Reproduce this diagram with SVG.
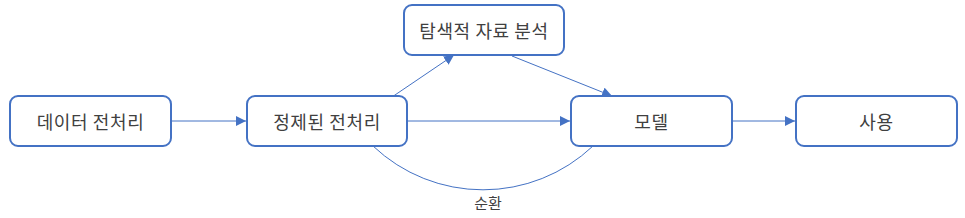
<svg xmlns="http://www.w3.org/2000/svg" width="965" height="218" viewBox="0 0 965 218">
<style>
.box{fill:#fff;stroke:#4472C4;stroke-width:2}
.t{font-family:"Noto Sans CJK KR","Noto Sans",sans-serif;font-size:18px;letter-spacing:0.6px;fill:#404040;text-anchor:middle;dominant-baseline:central}
.lbl{font-size:15px;letter-spacing:0}
.c{fill:none;stroke:#4472C4;stroke-width:1}
</style>
<defs>
<marker id="ah" viewBox="0 0 10 10" refX="10" refY="5" markerWidth="10" markerHeight="10" markerUnits="userSpaceOnUse" orient="auto">
<path d="M0,0 L10,5 L0,10 z" fill="#4472C4"/>
</marker>
</defs>
<rect width="965" height="218" fill="#fff"/>
<g id="connectors">
<line class="c" x1="171" y1="121" x2="246" y2="121" marker-end="url(#ah)"/>
<line class="c" x1="407" y1="121" x2="570" y2="121" marker-end="url(#ah)"/>
<line class="c" x1="732" y1="121" x2="795" y2="121" marker-end="url(#ah)"/>
<line class="c" x1="392" y1="97" x2="454" y2="55" marker-end="url(#ah)"/>
<line class="c" x1="512" y1="56" x2="612" y2="96" marker-end="url(#ah)"/>
<path class="c" d="M373,146 A160,160 0 0 0 593,146"/>
<text class="t lbl" x="488" y="202">순환</text>
</g>
<g id="n1"><rect class="box" x="10" y="96" width="161" height="50" rx="8"/><text class="t" x="90.5" y="121">데이터 전처리</text></g>
<g id="n2"><rect class="box" x="247" y="96" width="160" height="50" rx="8"/><text class="t" x="327" y="121">정제된 전처리</text></g>
<g id="n3"><rect class="box" x="404" y="5" width="160" height="50" rx="8"/><text class="t" x="484" y="30">탐색적 자료 분석</text></g>
<g id="n4"><rect class="box" x="571" y="96" width="161" height="50" rx="8"/><text class="t" x="651.5" y="121">모델</text></g>
<g id="n5"><rect class="box" x="796" y="96" width="161" height="50" rx="8"/><text class="t" x="876.5" y="121">사용</text></g>
</svg>
